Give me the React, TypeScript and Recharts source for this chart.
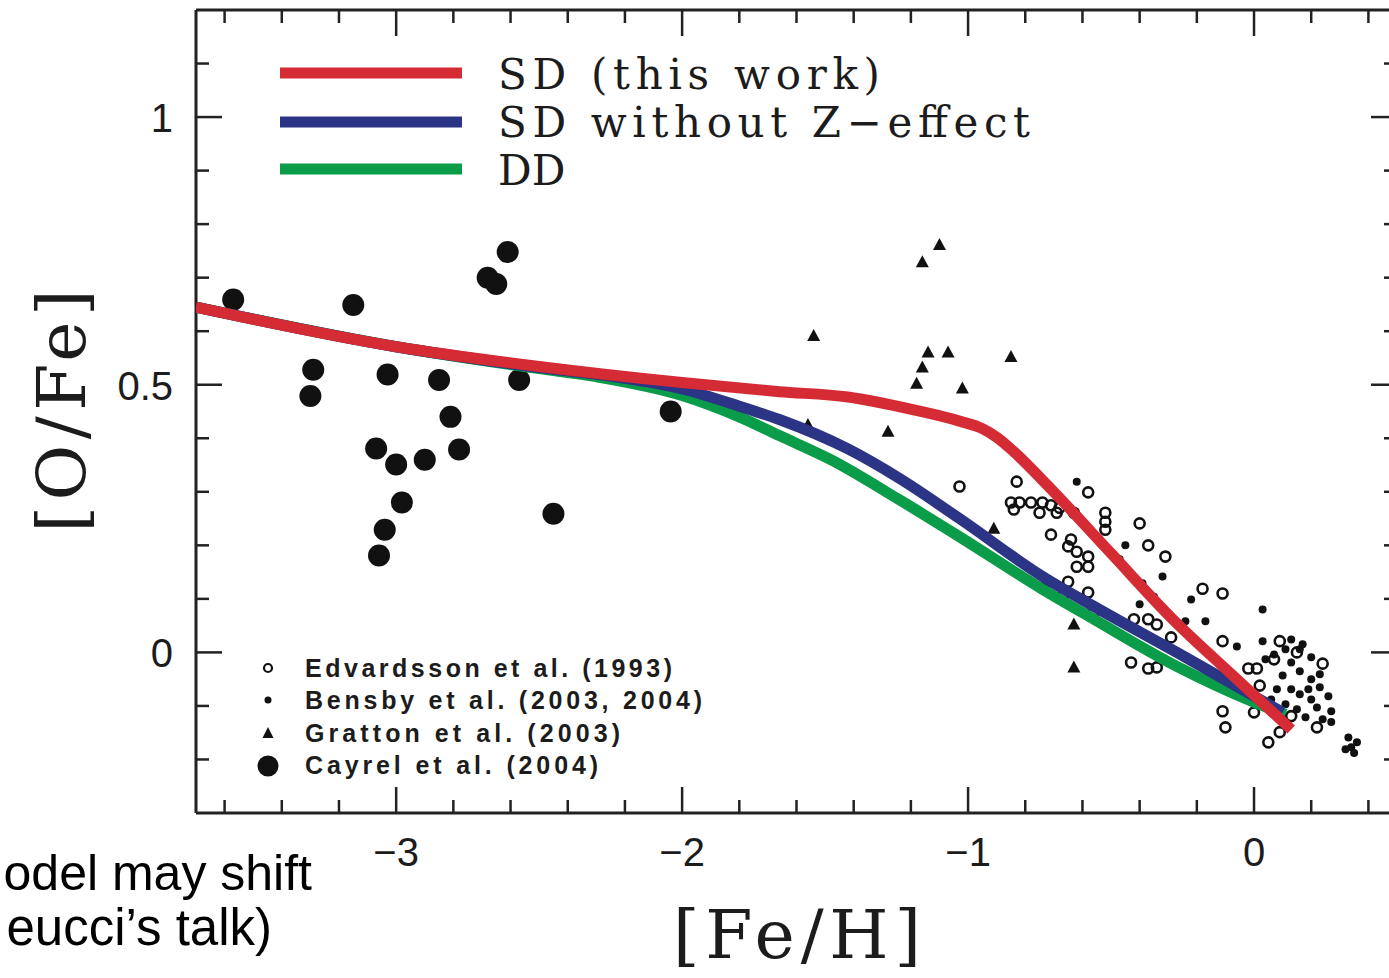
import React from "react";
import { ScatterChart, Scatter, XAxis, YAxis } from "recharts";

// ---------- data ----------
const X_TICKS = [-3.6, -3.4, -3.2, -3, -2.8, -2.6, -2.4, -2.2, -2, -1.8, -1.6, -1.4, -1.2, -1, -0.8, -0.6, -0.4, -0.2, 0, 0.2, 0.4];
const Y_TICKS = [-0.2, -0.1, 0, 0.1, 0.2, 0.3, 0.4, 0.5, 0.6, 0.7, 0.8, 0.9, 1, 1.1];
const X_LABELS: Record<string, string> = { "-3": "\u22123", "-2": "\u22122", "-1": "\u22121", "0": "0" };
const Y_LABELS: Record<string, string> = { "0": "0", "0.5": "0.5", "1": "1" };

const cayrel: [number, number][] = [
  [-3.57, 0.659], [-3.29, 0.528], [-3.3, 0.479], [-3.15, 0.649], [-3.03, 0.519],
  [-3.07, 0.381], [-3.0, 0.351], [-3.04, 0.229], [-3.06, 0.181], [-2.98, 0.28],
  [-2.9, 0.36], [-2.85, 0.509], [-2.81, 0.44], [-2.78, 0.379], [-2.68, 0.7],
  [-2.65, 0.688], [-2.61, 0.748], [-2.57, 0.509], [-2.45, 0.259], [-2.04, 0.45],
];

const gratton: [number, number][] = [
  [-1.1, 0.761], [-1.16, 0.729], [-1.54, 0.591], [-1.14, 0.56], [-1.07, 0.56],
  [-0.85, 0.552], [-1.16, 0.532], [-1.18, 0.502], [-1.02, 0.493], [-1.56, 0.425],
  [-1.28, 0.412], [-0.91, 0.231], [-0.73, 0.131], [-0.63, 0.052], [-0.63, -0.028],
];

const edvardsson: [number, number][] = [
  [-1.03, 0.31], [-0.83, 0.319], [-0.58, 0.299],
  [-0.85, 0.28], [-0.82, 0.28], [-0.78, 0.28], [-0.74, 0.28], [-0.71, 0.275], [-0.68, 0.27],
  [-0.84, 0.267], [-0.75, 0.261], [-0.69, 0.261], [-0.63, 0.261],
  [-0.52, 0.261], [-0.52, 0.244], [-0.52, 0.229], [-0.4, 0.241], [-0.71, 0.22],
  [-0.64, 0.211], [-0.65, 0.198], [-0.62, 0.188], [-0.58, 0.179], [-0.62, 0.16], [-0.58, 0.16],
  [-0.37, 0.2], [-0.31, 0.179], [-0.65, 0.132], [-0.67, 0.104], [-0.58, 0.112], [-0.56, 0.076],
  [-0.42, 0.062], [-0.37, 0.062], [-0.34, 0.052], [-0.43, -0.019], [-0.37, -0.03], [-0.34, -0.028],
  [-0.18, 0.119], [-0.11, 0.11], [-0.11, 0.021], [-0.11, -0.11], [-0.1, -0.14], [0.0, -0.112],
  [0.05, -0.168], [0.09, -0.149], [0.09, 0.021], [-0.02, -0.03], [0.01, -0.03], [0.02, -0.062],
  [0.07, -0.013], [0.15, 0.0], [0.24, -0.021], [0.22, -0.14], [0.13, -0.119], [-0.29, 0.028],
];

const bensby: [number, number][] = [
  [-0.62, 0.319], [-0.45, 0.2], [-0.47, 0.174], [-0.32, 0.142], [-0.39, 0.129], [-0.4, 0.09],
  [-0.35, 0.104], [-0.43, 0.147], [-0.22, 0.099], [-0.24, 0.058], [-0.17, 0.058], [0.03, 0.08],
  [-0.06, 0.011], [0.03, 0.021], [0.04, -0.013], [0.07, -0.004], [0.11, 0.006], [0.13, -0.019],
  [0.16, -0.035], [0.1, -0.043], [0.13, -0.069], [0.16, -0.078], [0.19, -0.069], [0.2, -0.088],
  [0.11, -0.097], [0.15, -0.106], [0.18, -0.121], [0.22, -0.103], [0.24, -0.125], [0.27, -0.11],
  [0.2, -0.05], [0.23, -0.065], [0.26, -0.082], [0.16, 0.006], [0.2, -0.009], [0.23, -0.041],
  [0.13, 0.024], [0.17, 0.015], [0.27, -0.13], [0.06, -0.088], [0.08, -0.069],
  [0.33, -0.159], [0.34, -0.177], [0.36, -0.168], [0.32, -0.181], [0.35, -0.188],
];

const sdThisWork: [number, number][] = [
  [-3.7, 0.645], [-3.0, 0.571], [-2.5, 0.534], [-2.0, 0.504], [-1.66, 0.487], [-1.42, 0.477],
  [-1.19, 0.453], [-1.03, 0.432], [-0.95, 0.418], [-0.9, 0.402], [-0.84, 0.375], [-0.74, 0.322],
  [-0.5, 0.185], [-0.29, 0.065], [-0.06, -0.05], [0.13, -0.144],
];
const sdNoZ: [number, number][] = [
  [-3.7, 0.645], [-3.0, 0.571], [-2.5, 0.532], [-2.2, 0.512], [-2.0, 0.492], [-1.8, 0.46],
  [-1.66, 0.435], [-1.42, 0.38], [-1.24, 0.325], [-1.03, 0.25], [-0.74, 0.142], [-0.56, 0.086],
  [-0.27, 0.0], [0.1, -0.112],
];
const ddModel: [number, number][] = [
  [-3.7, 0.645], [-3.0, 0.571], [-2.5, 0.53], [-2.3, 0.515], [-2.0, 0.48], [-1.8, 0.44],
  [-1.66, 0.405], [-1.48, 0.36], [-1.24, 0.285], [-1.03, 0.216], [-0.74, 0.118], [-0.56, 0.062],
  [-0.27, -0.026], [0.0, -0.093], [0.11, -0.116],
];

// ---------- styles ----------
const RED = "#d52b35";
const BLUE = "#2c3585";
const GREEN = "#0b9c49";
const INK = "#1c1c1c";
const AX = { stroke: "#222", strokeWidth: 3 };

const pts = (a: [number, number][]) => a.map(([x, y]) => ({ x, y }));

const isMajorX = (v: number) => Math.abs(v - Math.round(v)) < 1e-9;
const isMajorY = (v: number) => Math.abs(v * 2 - Math.round(v * 2)) < 1e-9;

const BottomTick = (p: any) => {
  const v = p.payload.value;
  const major = isMajorX(v);
  return (
    <g>
      <line x1={p.x} x2={p.x} y1={p.y} y2={p.y - (major ? 26 : 13)} stroke="#222" strokeWidth={2.5} />
      {major && (
        <text x={p.x} y={p.y + 53} textAnchor="middle" fontFamily="'Liberation Sans', Arial, sans-serif" fontSize={40} fill={INK}>
          {X_LABELS[String(Math.round(v))]}
        </text>
      )}
    </g>
  );
};
const TopTick = (p: any) => {
  const major = isMajorX(p.payload.value);
  return <line x1={p.x} x2={p.x} y1={p.y} y2={p.y + (major ? 26 : 13)} stroke="#222" strokeWidth={2.5} />;
};
const LeftTick = (p: any) => {
  const v = p.payload.value;
  const major = isMajorY(v);
  const key = String(Math.round(v * 10) / 10);
  return (
    <g>
      <line x1={p.x} x2={p.x + (major ? 26 : 13)} y1={p.y} y2={p.y} stroke="#222" strokeWidth={2.5} />
      {major && (
        <text x={p.x - 23} y={p.y + 15} textAnchor="end" fontFamily="'Liberation Sans', Arial, sans-serif" fontSize={40} fill={INK}>
          {Y_LABELS[key]}
        </text>
      )}
    </g>
  );
};
const RightTick = (p: any) => {
  const major = isMajorY(p.payload.value);
  return <line x1={p.x} x2={p.x - (major ? 26 : 13)} y1={p.y} y2={p.y} stroke="#222" strokeWidth={2.5} />;
};

const OpenCircle = (p: any) => <circle cx={p.cx} cy={p.cy} r={5} fill="none" stroke="#111" strokeWidth={2.6} />;
const SmallDot = (p: any) => <circle cx={p.cx} cy={p.cy} r={4} fill="#111" />;
const BigDot = (p: any) => <circle cx={p.cx} cy={p.cy} r={11} fill="#111" />;
const Tri = (p: any) => (
  <polygon points={`${p.cx},${p.cy - 7} ${p.cx - 6.5},${p.cy + 5} ${p.cx + 6.5},${p.cy + 5}`} fill="#111" />
);
const NoShape = () => <g />;

const SERIF = "'DejaVu Serif', 'Liberation Serif', serif";
const SANS = "'Liberation Sans', Arial, sans-serif";

export default function App() {
  return (
    <div style={{ position: "fixed", left: 0, top: 0, width: 1389, height: 978, overflow: "hidden", background: "#fff" }}>
      <ScatterChart width={1460} height={978} margin={{ top: 9, right: 62, bottom: 0, left: 0 }}>
        <XAxis xAxisId="b" orientation="bottom" type="number" dataKey="x" domain={[-3.7, 0.5]} allowDataOverflow
          ticks={X_TICKS} interval={0} tickSize={0} tickMargin={0} tickLine={false} axisLine={AX}
          tick={(p: any) => <BottomTick {...p} />} height={165} />
        <XAxis xAxisId="t" orientation="top" type="number" dataKey="x" domain={[-3.7, 0.5]} allowDataOverflow
          ticks={X_TICKS} interval={0} tickSize={0} tickMargin={0} tickLine={false} axisLine={AX}
          tick={(p: any) => <TopTick {...p} />} height={1} />
        <YAxis yAxisId="l" orientation="left" type="number" dataKey="y" domain={[-0.3, 1.2]} allowDataOverflow
          ticks={Y_TICKS} interval={0} tickSize={0} tickMargin={0} tickLine={false} axisLine={AX}
          tick={(p: any) => <LeftTick {...p} />} width={196} />
        <YAxis yAxisId="r" orientation="right" type="number" dataKey="y" domain={[-0.3, 1.2]} allowDataOverflow
          ticks={Y_TICKS} interval={0} tickSize={0} tickMargin={0} tickLine={false} axisLine={AX}
          tick={(p: any) => <RightTick {...p} />} width={1} />

        <Scatter name="Edvardsson et al. (1993)" xAxisId="b" yAxisId="l" data={pts(edvardsson)} shape={OpenCircle} isAnimationActive={false} />
        <Scatter name="Bensby et al. (2003, 2004)" xAxisId="b" yAxisId="l" data={pts(bensby)} shape={SmallDot} isAnimationActive={false} />
        <Scatter name="Gratton et al. (2003)" xAxisId="b" yAxisId="l" data={pts(gratton)} shape={Tri} isAnimationActive={false} />
        <Scatter name="Cayrel et al. (2004)" xAxisId="b" yAxisId="l" data={pts(cayrel)} shape={BigDot} isAnimationActive={false} />

        <Scatter name="DD" xAxisId="b" yAxisId="l" data={pts(ddModel)} fill={GREEN}
          line={{ stroke: GREEN, strokeWidth: 11, fill: "none" }} lineType="joint" lineJointType="monotoneX"
          shape={NoShape} isAnimationActive={false} />
        <Scatter name="SD without Z-effect" xAxisId="b" yAxisId="l" data={pts(sdNoZ)} fill={BLUE}
          line={{ stroke: BLUE, strokeWidth: 11, fill: "none" }} lineType="joint" lineJointType="monotoneX"
          shape={NoShape} isAnimationActive={false} />
        <Scatter name="SD (this work)" xAxisId="b" yAxisId="l" data={pts(sdThisWork)} fill={RED}
          line={{ stroke: RED, strokeWidth: 11, fill: "none" }} lineType="joint" lineJointType="monotoneX"
          shape={NoShape} isAnimationActive={false} />
      </ScatterChart>

      <svg width={1389} height={978} style={{ position: "absolute", left: 0, top: 0, pointerEvents: "none" }}>
        {/* model legend */}
        <line x1={280} x2={462} y1={73} y2={73} stroke={RED} strokeWidth={11} />
        <line x1={280} x2={462} y1={122} y2={122} stroke={BLUE} strokeWidth={11} />
        <line x1={280} x2={462} y1={169} y2={169} stroke={GREEN} strokeWidth={11} />
        <text x={498} y={89} fontFamily={SERIF} fontSize={42} fill={INK} textLength={382}>SD (this work)</text>
        <text x={498} y={137} fontFamily={SERIF} fontSize={42} fill={INK} textLength={532}>SD without Z{"\u2212"}effect</text>
        <text x={498} y={185} fontFamily={SERIF} fontSize={42} fill={INK}>DD</text>

        {/* data legend */}
        <circle cx={268} cy={668} r={4} fill="none" stroke="#111" strokeWidth={2.2} />
        <circle cx={268} cy={700} r={3.5} fill="#111" />
        <polygon points="268,727 262.5,738 273.5,738" fill="#111" />
        <circle cx={268} cy={766} r={10.5} fill="#111" />
        <text x={305} y={677} fontFamily={SANS} fontWeight="bold" fontSize={25} fill={INK} textLength={367}>Edvardsson et al. (1993)</text>
        <text x={305} y={709} fontFamily={SANS} fontWeight="bold" fontSize={25} fill={INK} textLength={397}>Bensby et al. (2003, 2004)</text>
        <text x={305} y={742} fontFamily={SANS} fontWeight="bold" fontSize={25} fill={INK} textLength={315}>Gratton et al. (2003)</text>
        <text x={305} y={774} fontFamily={SANS} fontWeight="bold" fontSize={25} fill={INK} textLength={293}>Cayrel et al. (2004)</text>

        {/* axis titles */}
        <text x={797} y={958} textAnchor="middle" fontFamily={SERIF} fontSize={68} fill={INK} textLength={248}>[Fe/H]</text>
        <text transform="translate(85,411) rotate(-90)" textAnchor="middle" fontFamily={SERIF} fontSize={68} fill={INK} textLength={243}>[O/Fe]</text>

        {/* slide text (partially outside the original crop) */}
        <text x={312} y={890} textAnchor="end" fontFamily="Arial, 'Liberation Sans', sans-serif" fontSize={50} fill="#000">odel may shift</text>
        <text x={272} y={945} textAnchor="end" fontFamily="Arial, 'Liberation Sans', sans-serif" fontSize={51} fill="#000">eucci{"\u2019"}s talk)</text>
      </svg>
    </div>
  );
}
